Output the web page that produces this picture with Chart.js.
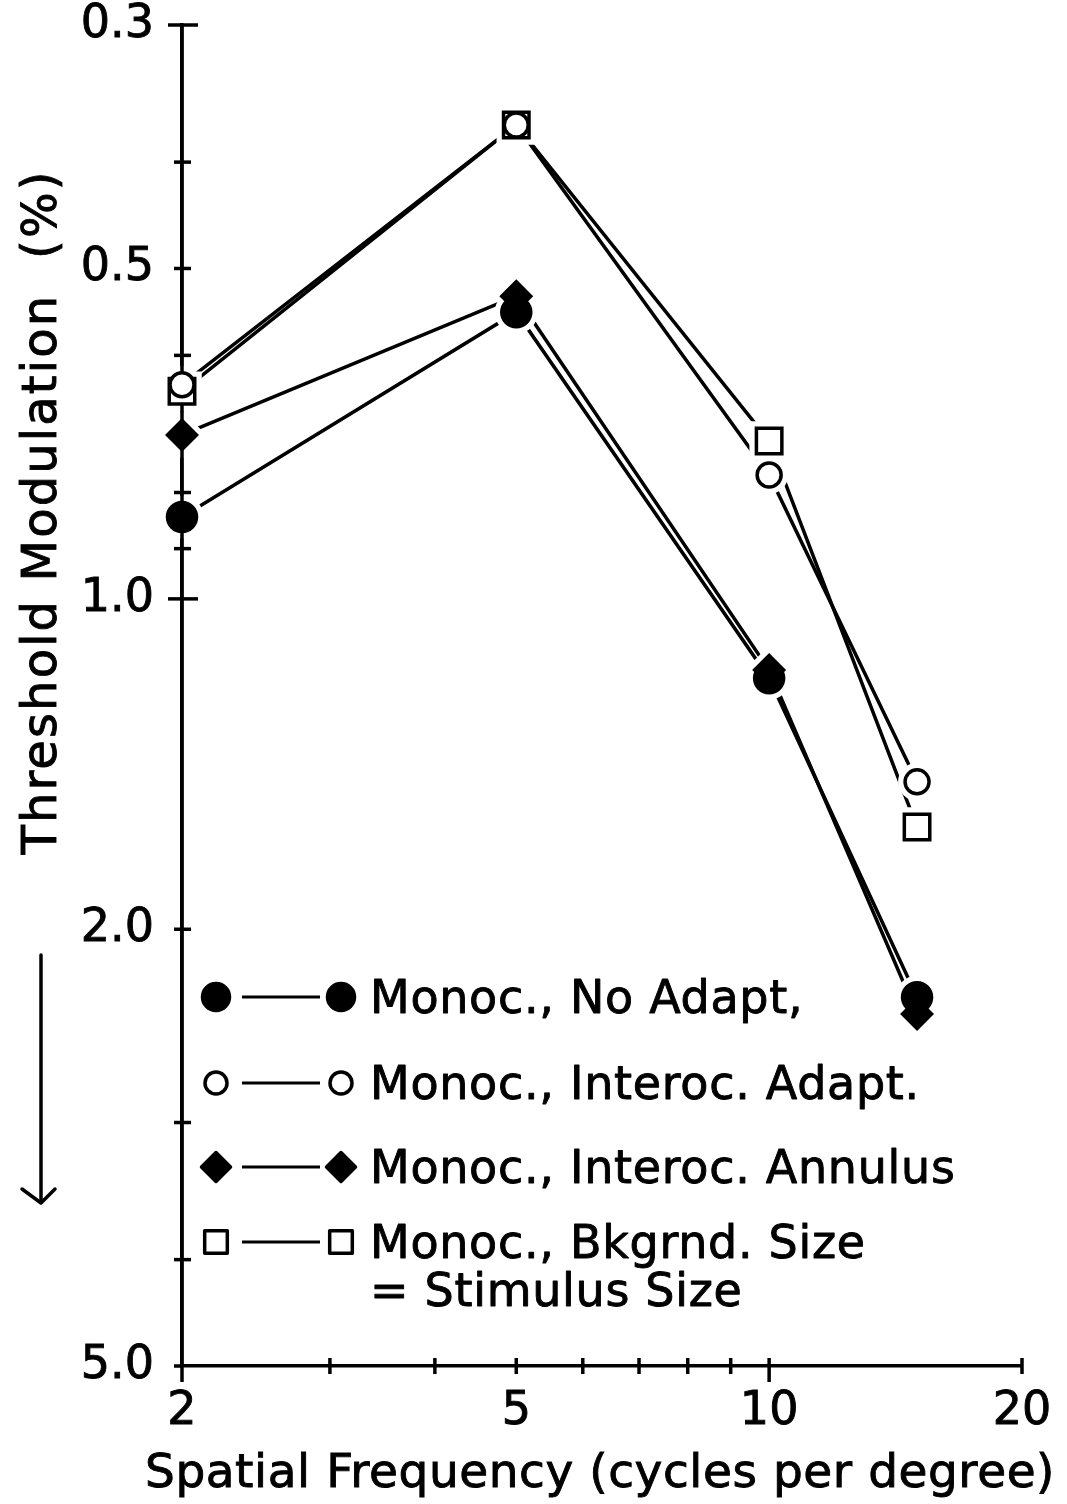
<!DOCTYPE html>
<html>
<head>
<meta charset="utf-8">
<script src="https://cdn.jsdelivr.net/npm/chart.js@4/dist/chart.umd.min.js"></script>
<style>
  html, body { margin: 0; padding: 0; background: #fff; }
  #wrap { width: 1067px; height: 1504px; }
</style>
</head>
<body>
<div id="wrap"><canvas id="chart" width="1067" height="1504"></canvas></div>
<script>
// Spatial frequency (cycles per degree) at which thresholds were measured
const spatialFreq = [2, 5, 10, 15];

// Threshold modulation (%) for each condition
const noAdapt        = [0.842, 0.548, 1.181, 2.307];
const interocAdapt   = [0.638, 0.370, 0.771, 1.468];
const interocAnnulus = [0.709, 0.530, 1.161, 2.389];
const bkgrndSize     = [0.647, 0.370, 0.718, 1.614];

const seriesLabels = [
  'Monoc., No Adapt,',
  'Monoc., Interoc. Adapt.',
  'Monoc., Interoc. Annulus',
  'Monoc., Bkgrnd. Size\n= Stimulus Size'
];

// Axis ticks
const xTickValues = [2, 3, 4, 5, 6, 7, 8, 9, 10, 20];
const xLabelled   = [2, 5, 10, 20];
const yTickValues = [0.3, 0.4, 0.5, 0.6, 0.7, 0.8, 0.9, 1, 2, 3, 4, 5];
const yLabelled   = [0.3, 0.5, 1, 2, 5];

const xTitle = 'Spatial Frequency (cycles per degree)';
const yTitle = 'Threshold Modulation  (%)';

const FONT = 'DejaVu Sans';
const INK = '#000';
const TEXT_STROKE = 0.9;

const markerStyles = [
  { pointStyle: 'circle',  radius: 14.5, legendRadius: 13.5, fill: INK },
  { pointStyle: 'circle',  radius: 12,   legendRadius: 11,   fill: '#fff' },
  { pointStyle: 'rectRot', radius: 14.5, legendRadius: 14.5, fill: INK },
  { pointStyle: 'rect',    radius: 18,   legendRadius: 16,   fill: '#fff' }
];

const seriesValues = [noAdapt, interocAdapt, interocAnnulus, bkgrndSize];

const datasets = seriesValues.map((vals, i) => ({
  label: seriesLabels[i],
  data: spatialFreq.map((x, j) => ({ x: x, y: vals[j] })),
  borderColor: INK,
  borderWidth: 3.5,
  tension: 0,
  clip: false,
  pointStyle: markerStyles[i].pointStyle,
  pointRadius: markerStyles[i].radius,
  pointHoverRadius: markerStyles[i].radius,
  pointBackgroundColor: markerStyles[i].fill,
  pointBorderColor: INK,
  pointBorderWidth: 3.5,
  legendRadius: markerStyles[i].legendRadius
}));

// Marker geometry following Chart.js point styles
function markerPath(ctx, style, r, x, y) {
  ctx.beginPath();
  if (style === 'circle') {
    ctx.arc(x, y, r, 0, Math.PI * 2);
  } else if (style === 'rect') {
    const s = Math.SQRT1_2 * r;
    ctx.rect(x - s, y - s, 2 * s, 2 * s);
  } else if (style === 'rectRot') {
    ctx.moveTo(x - r, y);
    ctx.lineTo(x, y - r);
    ctx.lineTo(x + r, y);
    ctx.lineTo(x, y + r);
    ctx.closePath();
  }
}

function drawSpaced(ctx, text, x, y, spacing) {
  ctx.letterSpacing = spacing + 'px';
  ctx.lineWidth = TEXT_STROKE;
  ctx.strokeStyle = INK;
  ctx.fillText(text, x, y);
  ctx.strokeText(text, x, y);
  ctx.letterSpacing = '0px';
}

// Stretches a line of text to span a given width
function drawFitted(ctx, text, cx, y, width) {
  ctx.letterSpacing = '0px';
  const w0 = ctx.measureText(text).width;
  const ls = (width - w0) / text.length;
  ctx.textAlign = 'left';
  drawSpaced(ctx, text, cx - width / 2, y, ls);
}

const axisMarks = {
  id: 'axisMarks',
  beforeDatasetsDraw(chart) {
    const ctx = chart.ctx;
    const xs = chart.scales.x, ys = chart.scales.y;
    const area = chart.chartArea;
    ctx.save();
    ctx.strokeStyle = INK;
    ctx.lineWidth = 3.5;
    ctx.lineCap = 'butt';
    ys.ticks.forEach(t => {
      const py = ys.getPixelForValue(t.value);
      const long = Math.abs(t.value - ys.min) < 1e-9 || t.value === 1;
      const a = long ? 14 : 8, b = long ? 16 : 9;
      ctx.beginPath();
      ctx.moveTo(area.left - a, py);
      ctx.lineTo(area.left + (t.value === ys.max ? 0 : b), py);
      ctx.stroke();
    });
    xs.ticks.forEach(t => {
      const px = xs.getPixelForValue(t.value);
      const long = t.value === 10 || t.value === 2;
      ctx.beginPath();
      ctx.moveTo(px, area.bottom - (t.value === xs.min ? 0 : 8));
      ctx.lineTo(px, area.bottom + (long ? 16 : 8));
      ctx.stroke();
    });
    ctx.restore();
  },
  // Leave a small clearing between each connecting line and its marker
  afterDatasetsDraw(chart) {
    const ctx = chart.ctx;
    const area = chart.chartArea;
    ctx.save();
    ctx.strokeStyle = '#fff';
    ctx.lineWidth = 14;
    chart.data.datasets.forEach((ds, i) => {
      chart.getDatasetMeta(i).data.forEach(pt => {
        markerPath(ctx, ds.pointStyle, ds.pointRadius, pt.x, pt.y);
        ctx.stroke();
      });
    });
    ctx.strokeStyle = INK;
    ctx.lineWidth = 3.5;
    ctx.beginPath();
    ctx.moveTo(area.left, area.top);
    ctx.lineTo(area.left, area.bottom);
    ctx.stroke();
    ctx.restore();
    for (let i = chart.data.datasets.length - 1; i >= 0; i--) {
      chart.getDatasetMeta(i).data.forEach(pt => pt.draw(ctx, area));
    }
  },
  afterDraw(chart) {
    const ctx = chart.ctx;
    ctx.save();
    ctx.fillStyle = INK;
    ctx.strokeStyle = INK;

    // Axis titles
    ctx.textBaseline = 'alphabetic';
    ctx.font = '47px "' + FONT + '"';
    drawFitted(ctx, xTitle, 600, 1487, 910);

    ctx.save();
    ctx.translate(56, 512);
    ctx.rotate(-Math.PI / 2);
    ctx.font = '48px "' + FONT + '"';
    drawFitted(ctx, yTitle, 0, 0, 685);
    ctx.restore();

    // Direction arrow beside the y axis
    ctx.lineWidth = 3.5;
    ctx.lineCap = 'round';
    ctx.lineJoin = 'round';
    ctx.beginPath();
    ctx.moveTo(41, 955);
    ctx.lineTo(41, 1202);
    ctx.stroke();
    ctx.beginPath();
    ctx.moveTo(22, 1189);
    ctx.lineTo(41, 1203);
    ctx.lineTo(55, 1189);
    ctx.stroke();

    // Key
    const rowsY = [997, 1083, 1167, 1242];
    const lineGap = 48;
    chart.data.datasets.forEach((ds, i) => {
      const y = rowsY[i];
      ctx.strokeStyle = INK;
      ctx.lineWidth = 3;
      ctx.lineCap = 'butt';
      ctx.beginPath();
      ctx.moveTo(242, y);
      ctx.lineTo(320, y);
      ctx.stroke();
      [216, 341].forEach(mx => {
        markerPath(ctx, ds.pointStyle, ds.legendRadius, mx, y);
        ctx.fillStyle = ds.pointBackgroundColor;
        ctx.fill();
        ctx.lineWidth = 3.5;
        ctx.stroke();
      });
      ctx.fillStyle = INK;
      ctx.font = '46px "' + FONT + '"';
      ctx.textAlign = 'left';
      ctx.textBaseline = 'alphabetic';
      ds.label.split('\n').forEach((line, k) => {
        drawSpaced(ctx, line, 370, y + 16 + k * lineGap, 0.7);
      });
    });
    ctx.restore();
  }
};

new Chart(document.getElementById('chart'), {
  type: 'line',
  data: { datasets: datasets },
  options: {
    responsive: false,
    animation: false,
    devicePixelRatio: 1,
    layout: { padding: { top: 25, right: 45, left: 0, bottom: 0 } },
    plugins: { legend: { display: false }, tooltip: { enabled: false } },
    events: [],
    scales: {
      x: {
        type: 'logarithmic',
        position: 'bottom',
        min: 2,
        max: 20,
        grid: { display: false, drawTicks: false },
        border: { display: true, color: INK, width: 3.5 },
        ticks: {
          color: INK,
          font: { family: FONT, size: 46 },
          textStrokeColor: INK,
          textStrokeWidth: TEXT_STROKE,
          padding: 18,
          autoSkip: false,
          maxRotation: 0,
          callback: v => xLabelled.includes(v) ? String(v) : ''
        },
        afterBuildTicks: s => { s.ticks = xTickValues.map(v => ({ value: v })); },
        afterFit: s => { s.height = 138; s.paddingLeft = 0; s.paddingRight = 0; }
      },
      y: {
        type: 'logarithmic',
        position: 'left',
        reverse: true,
        min: 0.3,
        max: 5,
        grid: { display: false, drawTicks: false },
        border: { display: true, color: INK, width: 3.5 },
        ticks: {
          color: INK,
          font: { family: FONT, size: 46 },
          textStrokeColor: INK,
          textStrokeWidth: TEXT_STROKE,
          padding: 28,
          autoSkip: false,
          callback: v => yLabelled.includes(v) ? v.toFixed(1) : ''
        },
        afterBuildTicks: s => { s.ticks = yTickValues.map(v => ({ value: v })); },
        afterFit: s => { s.width = 182; s.paddingTop = 0; s.paddingBottom = 0; }
      }
    }
  },
  plugins: [axisMarks]
});
</script>
</body>
</html>
